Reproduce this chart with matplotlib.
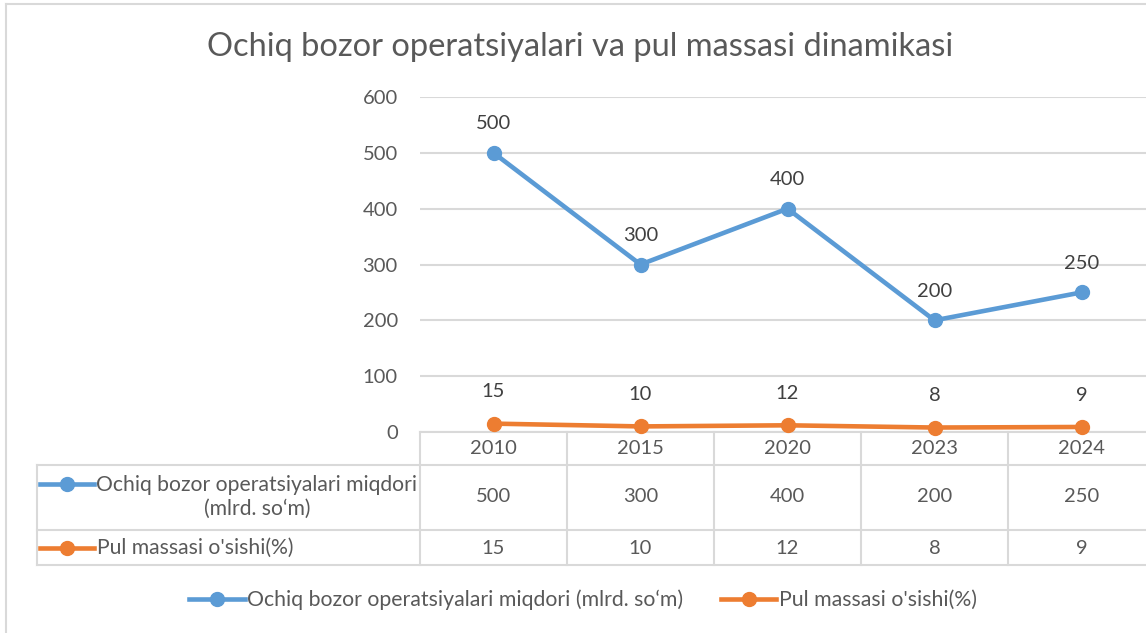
import matplotlib.pyplot as plt
from matplotlib.lines import Line2D
from matplotlib.transforms import blended_transform_factory

plt.rcParams['font.family'] = ['Lato', 'DejaVu Sans']

years = ["2010", "2015", "2020", "2023", "2024"]
operations = [500, 300, 400, 200, 250]
money_growth = [15, 10, 12, 8, 9]
series_names = ["Ochiq bozor operatsiyalari miqdori (mlrd. so‘m)", "Pul massasi o'sishi(%)"]
title = "Ochiq bozor operatsiyalari va pul massasi dinamikasi"

blue = "#5B9BD5"
orange = "#ED7D31"
grid = "#D9D9D9"
txt = "#595959"
fs = 14.5

W, H = 1146, 633
fig = plt.figure(figsize=(W / 100, H / 100), dpi=100)

# overlay in pixel coords for frame / table lines
ov = fig.add_axes([0, 0, 1, 1], zorder=0)
ov.set_xlim(0, W)
ov.set_ylim(H, 0)
ov.axis("off")

# plot area: x 420..1155 px, y 97..432 px
ax = fig.add_axes([420 / W, 1 - 432 / H, 735 / W, 335 / H], zorder=1)
ax.patch.set_alpha(0)
x = list(range(len(years)))
ax.plot(x, operations, color=blue, lw=3.3, marker="o", ms=10, solid_capstyle="round", clip_on=False)
ax.plot(x, money_growth, color=orange, lw=3.3, marker="o", ms=10, solid_capstyle="round", clip_on=False)
for xi, v in zip(x, operations):
    ax.annotate(str(v), (xi, v), xytext=(0, 21), textcoords="offset points",
                ha="center", va="center", fontsize=fs, color="#404040")
for xi, v in zip(x, money_growth):
    ax.annotate(str(v), (xi, v), xytext=(0, 23), textcoords="offset points",
                ha="center", va="center", fontsize=fs, color="#404040")
ax.set_xlim(-0.5, len(years) - 0.5)
ax.set_ylim(0, 600)
ax.set_yticks(range(0, 601, 100))
ax.yaxis.grid(True, color=grid, lw=1.5)
ax.set_axisbelow(True)
ax.tick_params(axis="y", length=0, pad=16, labelsize=fs, labelcolor=txt)
ax.set_xticks([])
for s in ax.spines.values():
    s.set_visible(False)

# data table below the axis
tr = blended_transform_factory(ax.transData, ov.transData)
bounds = [i - 0.5 for i in range(len(years) + 1)]
for b in bounds:
    ov.plot([b, b], [432, 565], color=grid, lw=1.5, transform=tr, clip_on=False)
ov.plot([-0.5, 4.6], [432, 432], color=grid, lw=1.5, transform=tr, clip_on=False)
for yy in (465, 530, 565):
    ov.plot([37, W], [yy, yy], color=grid, lw=1.5)
ov.plot([37, 37], [465, 565], color=grid, lw=1.5)
for xi, yr, a, b in zip(x, years, operations, money_growth):
    ov.text(xi, 449, yr, transform=tr, ha="center", va="center", fontsize=fs, color=txt)
    ov.text(xi, 497, str(a), transform=tr, ha="center", va="center", fontsize=fs, color=txt)
    ov.text(xi, 548, str(b), transform=tr, ha="center", va="center", fontsize=fs, color=txt)

# row keys
ov.plot([40, 94], [484, 484], color=blue, lw=3.3)
ov.plot([67], [484], "o", color=blue, ms=10)
ov.plot([40, 94], [548, 548], color=orange, lw=3.3)
ov.plot([67], [548], "o", color=orange, ms=10)
ov.text(257, 497, "Ochiq bozor operatsiyalari miqdori\n(mlrd. so‘m)", ha="center", va="center",
        fontsize=15.2, color=txt, linespacing=1.2)
ov.text(97, 548, series_names[1], ha="left", va="center", fontsize=15.2, color=txt)

# chart frame
ov.plot([6, 6], [4, H], color=grid, lw=1.5)
ov.plot([6, W], [4, 4], color=grid, lw=1.5)

fig.text(580 / W, 1 - 47 / H, title, ha="center", va="center", fontsize=23.5, color=txt)

handles = [Line2D([], [], color=blue, lw=3.3, marker="o", ms=10),
           Line2D([], [], color=orange, lw=3.3, marker="o", ms=10)]
leg = fig.legend(handles, series_names, loc="center", bbox_to_anchor=(583 / W, 1 - 600 / H), ncol=2,
                 frameon=False, fontsize=15.3, handlelength=2.6, handletextpad=0.1, columnspacing=1.8)
for t in leg.get_texts():
    t.set_color(txt)

fig.savefig("out.png", dpi=100)
